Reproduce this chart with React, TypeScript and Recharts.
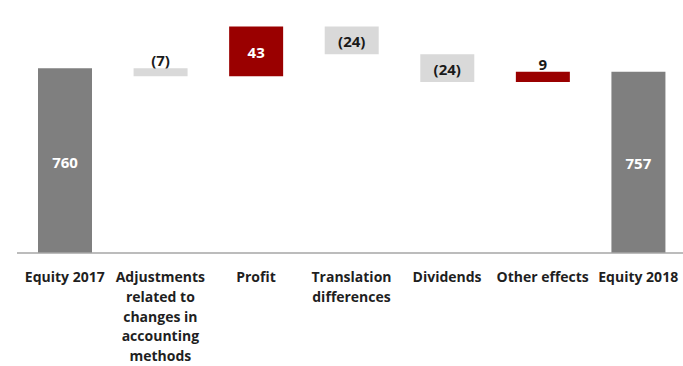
import { Bar, BarChart, Cell, LabelList, XAxis, YAxis } from 'recharts';

const categories = [
  'Equity 2017',
  'Adjustments\nrelated to\nchanges in\naccounting\nmethods',
  'Profit',
  'Translation\ndifferences',
  'Dividends',
  'Other effects',
  'Equity 2018',
];
const openingEquity = 760;
const changes = [-7, 43, -24, -24, 9];
const closingEquity = 757;

// value axis starts above zero, totals are drawn up from this floor
const axisFloor = 600;
const axisCeiling = 800;

const colors = { total: '#7f7f7f', up: '#9a0000', down: '#d9d9d9' };
const font = '"Open Sans", sans-serif';

type Row = { name: string; range: [number, number]; value: number; kind: 'total' | 'up' | 'down' };

const buildRows = (): Row[] => {
  const rows: Row[] = [
    { name: categories[0], range: [axisFloor, openingEquity], value: openingEquity, kind: 'total' },
  ];
  let running = openingEquity;
  changes.forEach((change, i) => {
    const next = running + change;
    rows.push({
      name: categories[i + 1],
      range: [Math.min(running, next), Math.max(running, next)],
      value: change,
      kind: change >= 0 ? 'up' : 'down',
    });
    running = next;
  });
  rows.push({
    name: categories[categories.length - 1],
    range: [axisFloor, closingEquity],
    value: closingEquity,
    kind: 'total',
  });
  return rows;
};

const rows = buildRows();

const CategoryTick = (props: any) => {
  const { x, y, payload } = props;
  const lines = String(payload.value).split('\n');
  return (
    <text x={x} y={y} textAnchor='middle' fill='#1f1f1f' fontFamily={font} fontSize={14} fontWeight={700}>
      {lines.map((line, i) => (
        <tspan key={i} x={x} dy={i === 0 ? 21 : 19.8}>
          {line}
        </tspan>
      ))}
    </text>
  );
};

const renderLabel = (props: any) => {
  const { x, y, width, height, value, index } = props;
  const row = rows[index];
  const top = Math.min(y, y + height);
  const h = Math.abs(height);
  const small = h < 14;
  const text = value < 0 ? `(${-value})` : `${value}`;
  const cy = small ? top - 8 : top + h / 2 + 1;
  const fill = small || row.kind === 'down' ? '#1a1a1a' : '#ffffff';
  return (
    <text
      x={x + width / 2}
      y={cy}
      textAnchor='middle'
      dominantBaseline='central'
      fill={fill}
      fontFamily={font}
      fontSize={15}
      fontWeight={700}
    >
      {text}
    </text>
  );
};

const App = () => {
  return (
    <div
      style={{
        position: 'absolute',
        left: 0,
        top: 0,
        width: 683,
        height: 366,
        overflow: 'hidden',
        background: '#fff',
      }}
    >
      <BarChart width={690} height={366} data={rows} margin={{ top: 22, right: 4, left: 17, bottom: 0 }}>
        <XAxis
          dataKey='name'
          interval={0}
          height={113}
          tickLine={false}
          axisLine={{ stroke: '#a6a6a6', strokeWidth: 1.5 }}
          tick={<CategoryTick />}
        />
        <YAxis hide domain={[axisFloor, axisCeiling]} allowDataOverflow />
        <Bar dataKey='range' barSize={54} isAnimationActive={false}>
          {rows.map((row, index) => (
            <Cell key={`cell-${index}`} fill={colors[row.kind]} />
          ))}
          <LabelList dataKey='value' content={renderLabel} />
        </Bar>
      </BarChart>
    </div>
  );
};

export default App;
